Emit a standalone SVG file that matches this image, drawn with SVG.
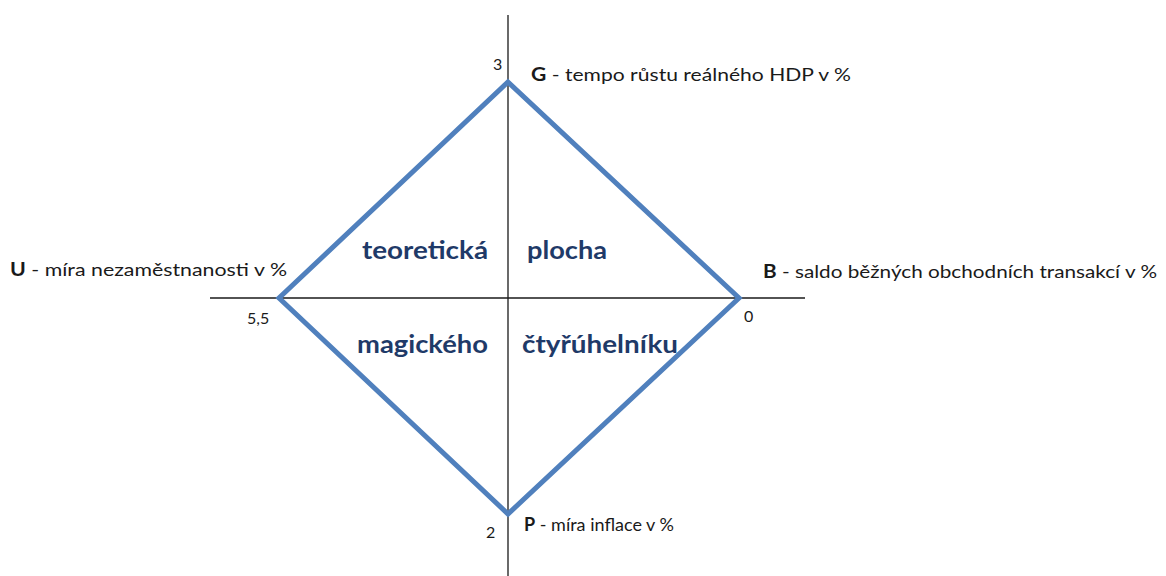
<svg xmlns="http://www.w3.org/2000/svg" width="1166" height="576" viewBox="0 0 1166 576">
<style>
.lbl{font-family:Lato,"Open Sans","Liberation Sans",sans-serif;font-size:18px;fill:#1a1a1a}
.b{font-weight:bold}
.num{font-family:Lato,"Open Sans","Liberation Sans",sans-serif;font-size:16px;fill:#1a1a1a}
.in{font-family:Lato,"Open Sans","Liberation Sans",sans-serif;font-size:25px;font-weight:bold;fill:#1f3a68}
.axis{stroke:#1a1a1a;stroke-width:1.3;fill:none}
.dia{stroke:#5080bd;stroke-width:5;fill:none;stroke-linejoin:miter}
</style>
<rect width="1166" height="576" fill="#ffffff"/>
<g id="connectors">
<line class="axis" x1="508" y1="15" x2="508" y2="576"/>
<line class="axis" x1="210" y1="298" x2="805" y2="298"/>
<polygon class="dia" points="508,82 739,298 508,514 279,298"/>
</g>
<g id="G">
<text class="num" x="493" y="70">3</text>
<text class="lbl" x="531" y="81" textLength="320" lengthAdjust="spacingAndGlyphs"><tspan class="b">G</tspan> - tempo růstu reálného HDP v %</text>
</g>
<g id="U">
<text class="lbl" x="10" y="276" textLength="277" lengthAdjust="spacingAndGlyphs"><tspan class="b">U</tspan> - míra nezaměstnanosti v %</text>
<text class="num" x="247" y="324">5,5</text>
</g>
<g id="B">
<text class="lbl" x="763" y="278" textLength="394" lengthAdjust="spacingAndGlyphs"><tspan class="b">B</tspan> - saldo běžných obchodních transakcí v %</text>
<text class="num" x="744" y="322">0</text>
</g>
<g id="P">
<text class="num" x="486" y="538">2</text>
<text class="lbl" x="524" y="531" textLength="150" lengthAdjust="spacingAndGlyphs"><tspan class="b">P</tspan> - míra inflace v %</text>
</g>
<g id="area">
<text class="in" x="362" y="259" textLength="126" lengthAdjust="spacingAndGlyphs">teoretická</text>
<text class="in" x="527" y="259" textLength="80" lengthAdjust="spacingAndGlyphs">plocha</text>
<text class="in" x="357" y="353" textLength="131" lengthAdjust="spacingAndGlyphs">magického</text>
<text class="in" x="522" y="353" textLength="156" lengthAdjust="spacingAndGlyphs">čtyřúhelníku</text>
</g>
</svg>
